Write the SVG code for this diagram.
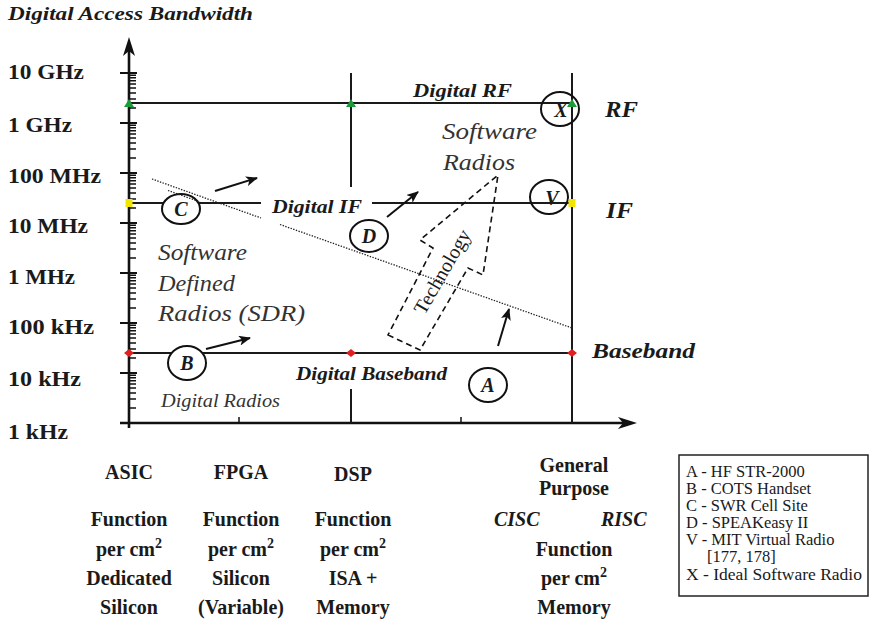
<svg xmlns="http://www.w3.org/2000/svg" width="871" height="619" viewBox="0 0 871 619">
<style>
.ln{stroke:#1a1a1a;stroke-width:2;fill:none}
.ax{stroke:#111;stroke-width:2.6;fill:none}
.tk{stroke:#111;stroke-width:1.5;fill:none}
.mj{stroke:#111;stroke-width:2;fill:none}
.dot{stroke:#222;stroke-width:1.3;stroke-dasharray:1.4 1.4;fill:none}
.dash{stroke:#111;stroke-width:1.6;stroke-dasharray:6 4;fill:none}
.cir{stroke:#111;stroke-width:2;fill:#fff}
.cirn{stroke:#111;stroke-width:2;fill:none}
.arr{stroke:#111;stroke-width:2;fill:none;marker-end:url(#ah)}
.bi{font-family:"Liberation Serif","Times New Roman",serif;font-weight:bold;font-style:italic;fill:#1a1a1a}
.b{font-family:"Liberation Serif","Times New Roman",serif;font-weight:bold;fill:#1a1a1a;font-size:20px}
.i{font-family:"Liberation Serif","Times New Roman",serif;font-style:italic;fill:#333}
.r{font-family:"Liberation Serif","Times New Roman",serif;fill:#1a1a1a}
.c{text-anchor:middle}
</style>
<defs>
<marker id="ah" viewBox="0 0 12 10" refX="11" refY="5" markerWidth="12" markerHeight="10" markerUnits="userSpaceOnUse" orient="auto">
<path d="M0,0 L12,5 L0,10 L3,5 Z" fill="#111"/>
</marker>
</defs>
<rect width="871" height="619" fill="#fff"/>

<!-- title -->
<text class="bi" x="8" y="20" font-size="18" textLength="245" lengthAdjust="spacingAndGlyphs">Digital Access Bandwidth</text>

<!-- axes -->
<g id="axes">
<path class="ax" d="M129,428 V48 M120,423 H626"/>
<path d="M129,37 L123,56 L129,51 L135,56 Z" fill="#111"/>
<path d="M637,423 L618,417 L623,423 L618,429 Z" fill="#111"/>
<path class="mj" d="M120,73H137M120,123H137M120,173H137M120,223H137M120,273H137M120,323H137M120,373H137"/>
<path class="tk" d="M129,107.9h7M129,99.1h7M129,92.9h7M129,88h7M129,84.1h7M129,80.7h7M129,77.8h7M129,75.3h7
M129,157.9h7M129,149.1h7M129,142.9h7M129,138h7M129,134.1h7M129,130.7h7M129,127.8h7M129,125.3h7
M129,207.9h7M129,199.1h7M129,192.9h7M129,188h7M129,184.1h7M129,180.7h7M129,177.8h7M129,175.3h7
M129,257.9h7M129,249.1h7M129,242.9h7M129,238h7M129,234.1h7M129,230.7h7M129,227.8h7M129,225.3h7
M129,307.9h7M129,299.1h7M129,292.9h7M129,288h7M129,284.1h7M129,280.7h7M129,277.8h7M129,275.3h7
M129,357.9h7M129,349.1h7M129,342.9h7M129,338h7M129,334.1h7M129,330.7h7M129,327.8h7M129,325.3h7
M129,407.9h7M129,399.1h7M129,392.9h7M129,388h7M129,384.1h7M129,380.7h7M129,377.8h7M129,375.3h7
M239,423v-6M461,423v-6"/>
</g>

<!-- y labels -->
<g id="ylabels" class="b">
<text x="8" y="79" textLength="76" lengthAdjust="spacingAndGlyphs">10 GHz</text>
<text x="8" y="132" textLength="64" lengthAdjust="spacingAndGlyphs">1 GHz</text>
<text x="8" y="183" textLength="93" lengthAdjust="spacingAndGlyphs">100 MHz</text>
<text x="8" y="233" textLength="80" lengthAdjust="spacingAndGlyphs">10 MHz</text>
<text x="8" y="284" textLength="67" lengthAdjust="spacingAndGlyphs">1 MHz</text>
<text x="8" y="334" textLength="86" lengthAdjust="spacingAndGlyphs">100 kHz</text>
<text x="8" y="386" textLength="73" lengthAdjust="spacingAndGlyphs">10 kHz</text>
<text x="8" y="439" textLength="60" lengthAdjust="spacingAndGlyphs">1 kHz</text>
</g>

<!-- grid -->
<g id="grid">
<path class="ln" d="M129,103H572 M129,203H261 M372,203H572 M129,353H572 M351,73V187 M351,389V423 M572,73V423"/>
<path class="dot" d="M152,179L261,218 M280,224.5L572,328"/>
<path class="dash" d="M388,335 L420,350 L468,268 L483,275 L498,175 L420,240 L433,248 Z"/>
</g>

<!-- region labels -->
<text class="bi" x="413" y="97" font-size="19" textLength="99" lengthAdjust="spacingAndGlyphs">Digital RF</text>
<text class="bi" x="272" y="213" font-size="19" textLength="90" lengthAdjust="spacingAndGlyphs">Digital IF</text>
<text class="bi" x="296" y="380" font-size="19" textLength="151" lengthAdjust="spacingAndGlyphs">Digital Baseband</text>
<text class="bi" x="605" y="117" font-size="24" textLength="33" lengthAdjust="spacingAndGlyphs">RF</text>
<text class="bi" x="606" y="218" font-size="24" textLength="27" lengthAdjust="spacingAndGlyphs">IF</text>
<text class="bi" x="592" y="358" font-size="22" textLength="103" lengthAdjust="spacingAndGlyphs">Baseband</text>

<text class="i" x="442" y="139" font-size="24" textLength="95" lengthAdjust="spacingAndGlyphs">Software</text>
<text class="i" x="443" y="170" font-size="24" textLength="72" lengthAdjust="spacingAndGlyphs">Radios</text>
<text class="i" x="158" y="260" font-size="24" textLength="89" lengthAdjust="spacingAndGlyphs">Software</text>
<text class="i" x="158" y="291" font-size="24" textLength="77" lengthAdjust="spacingAndGlyphs">Defined</text>
<text class="i" x="158" y="321" font-size="24" textLength="147" lengthAdjust="spacingAndGlyphs">Radios (SDR)</text>
<text class="i" x="161" y="407" font-size="19" textLength="119" lengthAdjust="spacingAndGlyphs">Digital Radios</text>
<text class="r c" transform="translate(448,275) rotate(-60)" font-size="20" fill="#333">Technology</text>

<!-- nodes -->
<g id="node-A"><ellipse class="cir" cx="488" cy="385" rx="19" ry="17"/><text class="bi c" x="488" y="392" font-size="20">A</text></g>
<g id="node-B"><ellipse class="cir" cx="187" cy="363" rx="19" ry="17"/><text class="bi c" x="187" y="370" font-size="20">B</text></g>
<g id="node-C"><ellipse class="cir" cx="181" cy="209" rx="19" ry="15"/><text class="bi c" x="181" y="216" font-size="20">C</text></g>
<g id="node-D"><ellipse class="cirn" cx="369" cy="236" rx="19" ry="16"/><text class="bi c" x="369" y="243" font-size="20">D</text></g>
<g id="node-V"><ellipse class="cirn" cx="549" cy="197" rx="19" ry="17"/><text class="bi c" x="552" y="205" font-size="20">V</text></g>
<g id="node-X"><ellipse class="cirn" cx="560" cy="109" rx="19" ry="17"/><text class="bi c" x="561" y="117" font-size="20">X</text></g>

<path class="dot" d="M168,190.5L200,201.9"/>

<!-- markers -->
<g id="marks">
<path d="M124,107 L134,107 L129,99 Z M346,107 L356,107 L351,99 Z M567,107 L577,107 L572,99 Z" fill="#1a9e3a"/>
<rect x="125.5" y="199" width="7" height="8" fill="#f2e600"/>
<rect x="568.5" y="199" width="7" height="8" fill="#f2e600"/>
<path d="M124,353 L129,349 L134,353 L129,357 Z M346,353 L351,349 L356,353 L351,357 Z M567,353 L572,349 L577,353 L572,357 Z" fill="#e02020"/>
</g>

<!-- connectors -->
<g id="connectors">
<path class="arr" d="M215,191 L257,178"/>
<path class="arr" d="M206,349 L250,338"/>
<path class="arr" d="M387,217 L418,192"/>
<path class="arr" d="M498,346 L509,309"/>
</g>

<!-- bottom labels -->
<g id="columns" class="b c">
<text x="129" y="479">ASIC</text>
<text x="129" y="526">Function</text>
<text x="129" y="556">per cm<tspan dy="-8" font-size="14">2</tspan></text>
<text x="129" y="585">Dedicated</text>
<text x="129" y="614">Silicon</text>
<text x="241" y="479">FPGA</text>
<text x="241" y="526">Function</text>
<text x="241" y="556">per cm<tspan dy="-8" font-size="14">2</tspan></text>
<text x="241" y="585">Silicon</text>
<text x="241" y="614">(Variable)</text>
<text x="353" y="481">DSP</text>
<text x="353" y="526">Function</text>
<text x="353" y="556">per cm<tspan dy="-8" font-size="14">2</tspan></text>
<text x="353" y="585">ISA +</text>
<text x="353" y="614">Memory</text>
<text x="574" y="472">General</text>
<text x="574" y="495">Purpose</text>
<text x="574" y="556">Function</text>
<text x="574" y="585">per cm<tspan dy="-8" font-size="14">2</tspan></text>
<text x="574" y="614">Memory</text>
</g>
<text class="bi" x="494" y="526" font-size="20">CISC</text>
<text class="bi" x="601" y="526" font-size="20">RISC</text>

<!-- legend -->
<g id="legend">
<rect x="679" y="455" width="189" height="141" fill="#fff" stroke="#222" stroke-width="1.5"/>
<g class="r" font-size="16.5">
<text x="686" y="477">A - HF STR-2000</text>
<text x="686" y="494">B - COTS Handset</text>
<text x="686" y="511">C - SWR Cell Site</text>
<text x="686" y="528">D - SPEAKeasy II</text>
<text x="686" y="545">V - MIT Virtual Radio</text>
<text x="707" y="562">[177, 178]</text>
<text x="686" y="580" textLength="176" lengthAdjust="spacingAndGlyphs">X - Ideal Software Radio</text>
</g>
</g>
</svg>
